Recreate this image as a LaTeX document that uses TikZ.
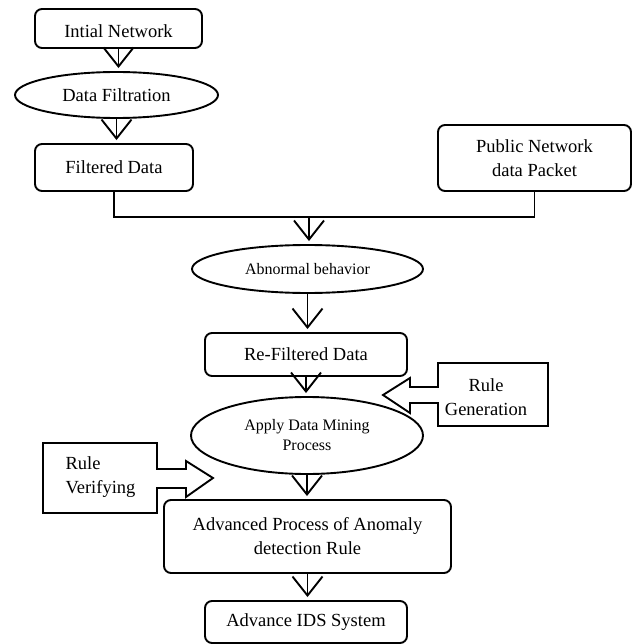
\documentclass[tikz,border=0pt]{standalone}
\usepackage{fontspec}
\setmainfont{Liberation Serif}
\usetikzlibrary{shapes.geometric,arrows.meta}

\tikzset{
	big/.style={font=\fontsize{18.5}{24}\selectfont},
	small/.style={font=\fontsize{16}{20}\selectfont},
	stepbox/.style={draw, big, rounded corners=7pt, line width=1.9pt, inner sep=0pt, align=center},
	oval/.style={draw, ellipse, line width=1.9pt, inner sep=0pt, align=center},
	flow/.style={line width=1.9pt, -{Straight Barb[length=19pt,width=30pt]}, shorten >=3pt},
	joinline/.style={line width=1.9pt},
	callout/.style={line width=1.9pt, line join=miter}
}

\begin{document}
\begin{tikzpicture}[x=1pt,y=-1pt]
					\useasboundingbox (0,0) rectangle (633,644);
					\node[stepbox, minimum width=167pt, minimum height=39pt, text height=19pt] (init) at (118.5,28.5) {Intial Network};
					\node[oval, big, minimum width=203pt, minimum height=46pt] (filt) at (116.5,95) {Data Filtration};
					\node[stepbox, minimum width=158pt, minimum height=47pt] (filtered) at (114,167.5) {Filtered Data};
					\node[stepbox, minimum width=193pt, minimum height=66pt] (public) at (534.5,158) {Public Network\\data Packet};
					\coordinate (merge) at (309,217);
					\node[oval, small, minimum width=231pt, minimum height=48pt] (abn) at (307.5,269) {Abnormal behavior};
					\node[stepbox, minimum width=202pt, minimum height=43pt] (refilt) at (306,354.5) {Re-Filtered Data};
					\node[oval, small, minimum width=232pt, minimum height=77pt] (mining) at (307,435.5) {Apply Data Mining\\Process};
					\node[stepbox, minimum width=287pt, minimum height=73pt] (adv) at (307.5,536.5) {Advanced Process of Anomaly\\detection Rule};
					\node[stepbox, minimum width=202pt, minimum height=42pt] (ids) at (306,622) {Advance IDS System};

					\draw[flow] (init.south) -- (init.south |- filt.north);
					\draw[flow] (filt.south) -- (filt.south |- filtered.north);
					\draw[joinline] (filtered.south) |- (merge) -| (public.south);
					\draw[flow] (merge) -- (merge |- abn.north);
					\draw[flow] (abn.south) -- (abn.south |- refilt.north);
					\draw[flow] (refilt.south) -- (refilt.south |- mining.north);
					\draw[flow] (mining.south) -- (mining.south |- adv.north);
					\draw[flow] (adv.south) -- (adv.south |- ids.north);

					\node[big, align=center] (rulegen) at (486,397) {Rule\\Generation};
					\draw[callout] (438,363) -- (548,363) -- (548,426) -- (438,426) -- (438,403) -- (410,403) -- (410,413) -- (383,395) -- (410,378) -- (410,387) -- (438,387) -- cycle;
					\node[big, align=left, anchor=west] (ruleverify) at (62,477) {Rule\\Verifying};
					\draw[callout] (43,443) -- (157,443) -- (157,469) -- (186,469) -- (186,461) -- (213,478) -- (186,497) -- (186,488) -- (157,488) -- (157,513) -- (43,513) -- cycle;
\end{tikzpicture}
\end{document}
